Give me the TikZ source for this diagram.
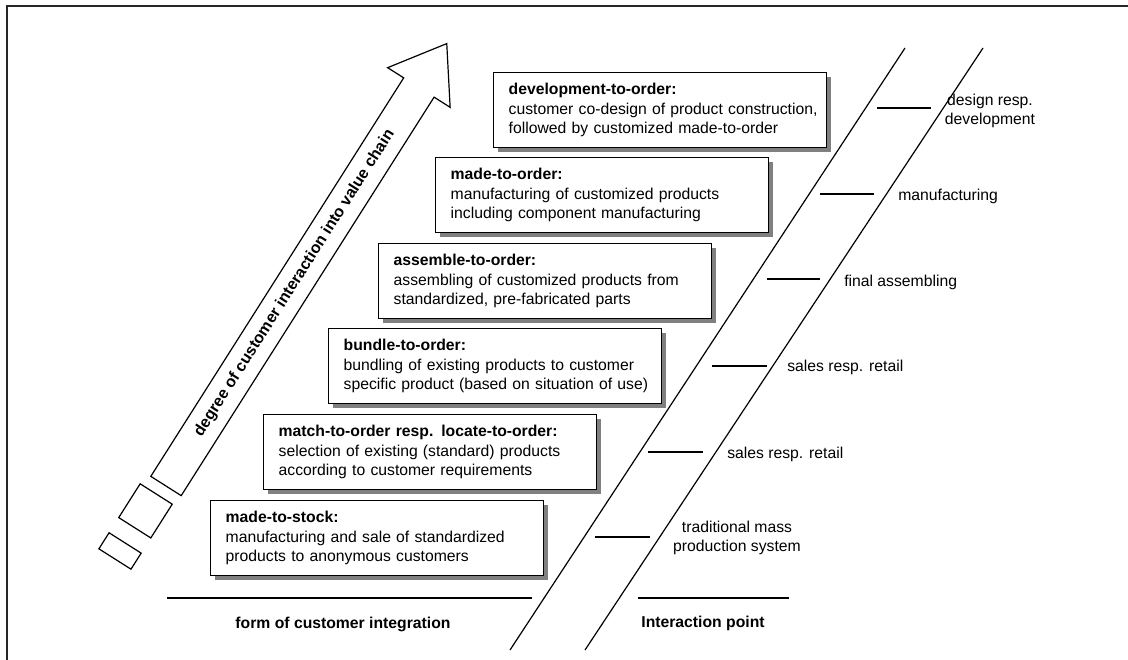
\documentclass[tikz,border=0pt]{standalone}
\usepackage{fontspec}
\setmainfont{Liberation Sans}
\usetikzlibrary{shadows}
\newcommand{\formlines}[3]{\begin{tabular}{@{}l@{}}\textbf{#1}\\#2\\#3\end{tabular}}
\tikzset{
  formbox/.style={draw=black, line width=1.1pt, fill=white, anchor=north west,
    minimum width=249.75pt, minimum height=56.25pt, inner xsep=11.25pt,
    text width=227.25pt, align=left,
    drop shadow={shadow xshift=3pt, shadow yshift=-3pt, fill=gray, opacity=1}},
  pointlabel/.style={anchor=west, inner sep=0pt},
  tick/.style={line width=0.9pt},
}

\begin{document}
\begin{tikzpicture}[x=0.75pt, y=-0.75pt,
  every node/.style={font=\fontsize{11.8}{14.6}\selectfont}]
\useasboundingbox (0,0) rectangle (1128,660);

%% Frame
\draw[line width=1.4pt, black!85] (1128,6) -- (7,6) -- (7,660);

%% Arrow: degree of interaction
\begin{scope}[shift={(166,486)}, rotate=57.6]
\draw[line width=0.9pt]
  (0,-18) -- (472,-18) -- (472,-37) -- (524,0) -- (472,37) -- (472,18) -- (0,18) -- cycle;
\node[rotate=57.6, font=\fontsize{12}{14}\selectfont\bfseries] (degree) at (240,0)
  {degree of customer interaction into value chain};
% small blocks below
\draw[line width=0.9pt] (-12,-23) rectangle (-52,15);
\draw[line width=0.9pt] (-70,-23) rectangle (-89,15);
\end{scope}

%% Forms of customer integration
\node[formbox] (dto) at (493,72)
  {\formlines{development-to-order:}{customer co-design of product construction,}{followed by customized made-to-order}};
\node[formbox] (mto) at (435,157)
  {\formlines{made-to-order:}{manufacturing of customized products}{including component manufacturing}};
\node[formbox] (ato) at (378,243)
  {\formlines{assemble-to-order:}{assembling of customized products from}{standardized, pre-fabricated parts}};
\node[formbox] (bto) at (328,328)
  {\formlines{bundle-to-order:}{bundling of existing products to customer}{specific product (based on situation of use)}};
\node[formbox] (mtch) at (263,414)
  {\formlines{match-to-order resp. locate-to-order:}{selection of existing (standard) products}{according to customer requirements}};
\node[formbox] (mts) at (210,500)
  {\formlines{made-to-stock:}{manufacturing and sale of standardized}{products to anonymous customers}};

%% Value chain band
\draw[line width=0.9pt] (510,650) -- (905,48);
\draw[line width=0.9pt] (585,650) -- (983,48);

% ticks
\draw[tick] (877,108) -- (931,108);
\draw[tick] (820,194) -- (874,194);
\draw[tick] (767,279) -- (820,279);
\draw[tick] (712,366) -- (767,366);
\draw[tick] (648,452) -- (703,452);
\draw[tick] (595,537) -- (650,537);

% interaction points
\node[align=center] (ipdev) at (990,111) {design resp.\\development};
\node[pointlabel] (ipman) at (898,196) {manufacturing};
\node[pointlabel] (ipasm) at (844,282) {final assembling};
\node[pointlabel] (ipsal) at (787,367) {sales resp. retail};
\node[pointlabel] (ipret) at (727,454) {sales resp. retail};
\node[align=center] (ipmass) at (737,538) {traditional mass\\production system};

%% Headings
\draw[line width=0.9pt] (167,598) -- (532,598);
\draw[line width=0.9pt] (638,598) -- (789,598);
\node[font=\fontsize{11.8}{14.6}\selectfont\bfseries] (formhead) at (343,624) {form of customer integration};
\node[font=\fontsize{11.8}{14.6}\selectfont\bfseries] (pointhead) at (703,623) {Interaction point};

\end{tikzpicture}
\end{document}
